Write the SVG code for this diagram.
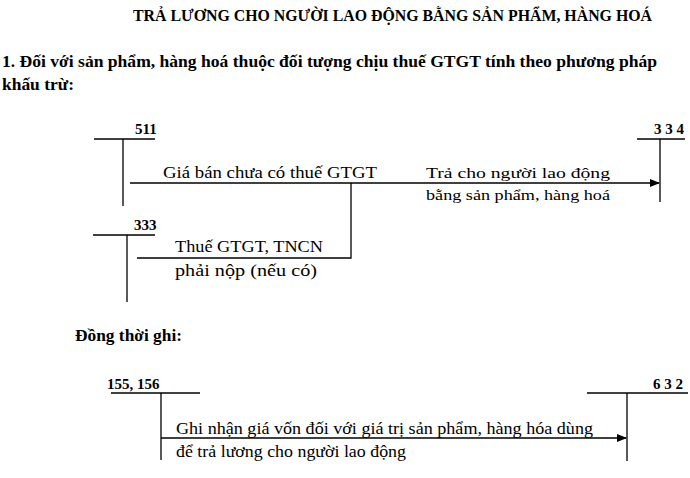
<svg xmlns="http://www.w3.org/2000/svg" width="690" height="478" viewBox="0 0 690 478">
<style>
text{font-family:"Liberation Serif",serif;fill:#000}
.b{font-weight:bold}
.t{font-size:15px}
.m{font-size:17px}
.s{font-size:15px}
line,polyline{stroke:#000;stroke-width:1.3;fill:none}
</style>
<defs><marker id="a" markerWidth="10" markerHeight="8" refX="9" refY="4" orient="auto" markerUnits="userSpaceOnUse"><path d="M0,0 L10,4 L0,8 Z" fill="#000"/></marker></defs>
<rect width="690" height="478" fill="#fff"/>
<text class="b" x="133" y="21" font-size="16" textLength="519" lengthAdjust="spacingAndGlyphs">TRẢ LƯƠNG CHO NGƯỜI LAO ĐỘNG BẰNG SẢN PHẨM, HÀNG HOÁ</text>
<text class="b" x="2" y="67" font-size="17" textLength="655" lengthAdjust="spacingAndGlyphs">1. Đối với sản phẩm, hàng hoá thuộc đối tượng chịu thuế GTGT tính theo phương pháp</text>
<text class="b" x="2" y="90" font-size="17" textLength="72" lengthAdjust="spacingAndGlyphs">khấu trừ:</text>
<g id="acc511"><line x1="94" y1="139" x2="155" y2="139"/><line x1="123" y1="139" x2="123" y2="206"/><text class="b t" x="135" y="134">511</text></g>
<g id="acc334"><line x1="637" y1="139" x2="685" y2="139"/><line x1="660" y1="139" x2="660" y2="202"/><text class="b t" x="684" y="134" text-anchor="end">3 3 4</text></g>
<g id="acc333"><line x1="93" y1="235" x2="155" y2="235"/><line x1="127" y1="235" x2="127" y2="302"/><text class="b t" x="134" y="230">333</text></g>
<g id="acc155"><line x1="111" y1="393" x2="200" y2="393"/><line x1="161" y1="393" x2="161" y2="460"/><text class="b t" x="107" y="389">155, 156</text></g>
<g id="acc632"><line x1="587" y1="393" x2="688" y2="393"/><line x1="627" y1="393" x2="627" y2="461"/><text class="b t" x="683" y="389" text-anchor="end">6 3 2</text></g>
<g id="connectors">
<line x1="130" y1="183" x2="659" y2="183" marker-end="url(#a)"/>
<polyline points="137,258 351,258 351,183"/>
<line x1="161" y1="438" x2="626" y2="438" marker-end="url(#a)"/>
</g>
<text class="m" x="163" y="178" textLength="214" lengthAdjust="spacingAndGlyphs">Giá bán chưa có thuế GTGT</text>
<text class="s" x="426" y="178" textLength="184" lengthAdjust="spacingAndGlyphs">Trả cho người lao động</text>
<text class="s" x="426" y="200" textLength="184" lengthAdjust="spacingAndGlyphs">bằng sản phẩm, hàng hoá</text>
<text class="m" x="175" y="252" textLength="148" lengthAdjust="spacingAndGlyphs">Thuế GTGT, TNCN</text>
<text class="m" x="175" y="276" textLength="142" lengthAdjust="spacingAndGlyphs">phải nộp (nếu có)</text>
<text class="b m" x="75" y="341" textLength="107" lengthAdjust="spacingAndGlyphs">Đồng thời ghi:</text>
<text class="m" x="176" y="434" textLength="417" lengthAdjust="spacingAndGlyphs">Ghi nhận giá vốn đối với giá trị sản phẩm, hàng hóa dùng</text>
<text class="m" x="176" y="457" textLength="230" lengthAdjust="spacingAndGlyphs">để trả lương cho người lao động</text>
</svg>
